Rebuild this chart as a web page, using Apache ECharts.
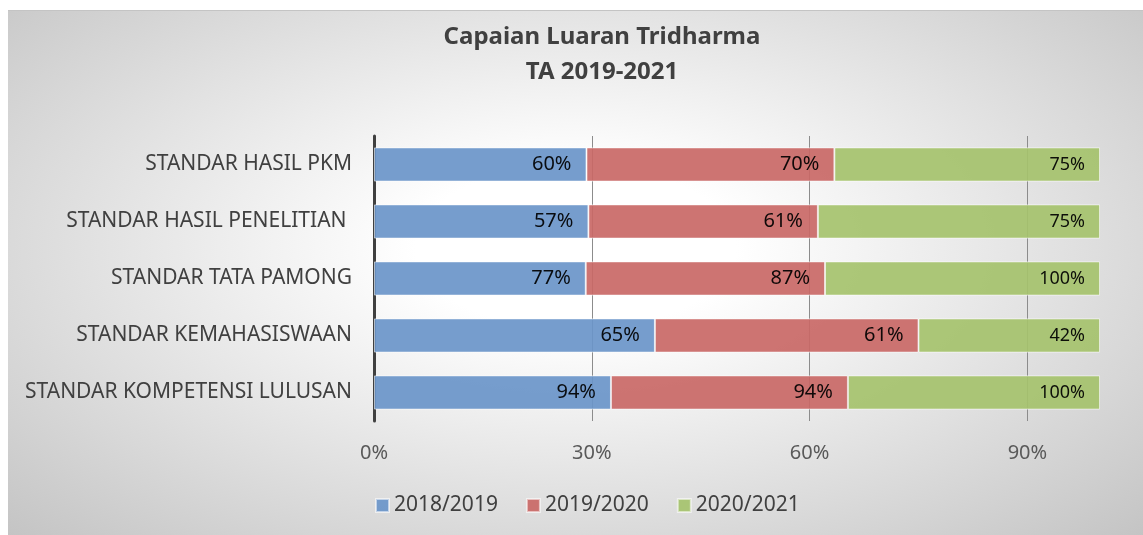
<!DOCTYPE html>
<html>
<head>
<meta charset="utf-8">
<title>Capaian Luaran Tridharma</title>
<script src="https://cdn.jsdelivr.net/npm/echarts@6/dist/echarts.min.js"></script>
<style>
  html, body { margin: 0; padding: 0; background: #fff; }
  #chart {
    position: absolute; left: 8px; top: 10px; width: 1135px; height: 525px;
    border-top: 1px solid #c4c4c4;
    background: radial-gradient(ellipse at 50% 45%, #ffffff 20%, #c4c4c4 100%);
  }
</style>
</head>
<body>
<div id="chart"></div>
<script>
// categories, top to bottom
const categories = [
  'STANDAR HASIL PKM',
  'STANDAR HASIL PENELITIAN ',
  'STANDAR TATA PAMONG',
  'STANDAR KEMAHASISWAAN',
  'STANDAR KOMPETENSI LULUSAN'
]
const seriesNames = ['2018/2019', '2019/2020', '2020/2021']
const data2018 = [60, 57, 77, 65, 94]
const data2019 = [70, 61, 87, 61, 94]
const data2020 = [75, 75, 100, 42, 100]
const xTicks = [0, 30, 60, 90]

const colors = ['#6a95c9', '#c96866', '#a5c26d']
const raw = [data2018, data2019, data2020]
const totals = categories.map((c, i) => data2018[i] + data2019[i] + data2020[i])

const font = '"Noto Sans", "Open Sans", sans-serif'

const chart = echarts.init(document.getElementById('chart'))

chart.setOption({
  backgroundColor: 'transparent',
  textStyle: { fontFamily: font },
  title: {
    text: 'Capaian Luaran Tridharma\nTA 2019-2021',
    left: 589,
    textAlign: 'center',
    top: 4,
    textStyle: {
      fontFamily: font,
      fontSize: 24,
      fontWeight: 'bold',
      color: '#404040',
      lineHeight: 35
    }
  },
  legend: {
    bottom: 15,
    left: 362,
    itemWidth: 13,
    itemHeight: 13,
    itemGap: 28,
    icon: 'rect',
    textStyle: { fontSize: 21, color: '#404040', fontFamily: font },
    data: seriesNames
  },
  grid: {
    left: 366,
    right: 43,
    top: 125,
    bottom: 115
  },
  xAxis: {
    type: 'value',
    min: 0,
    max: 100,
    interval: 30,
    axisLine: { show: false },
    axisTick: { show: false },
    axisLabel: {
      fontSize: 20,
      color: '#595959',
      margin: 22,
      formatter: v => (xTicks.indexOf(v) >= 0 ? v + '%' : '')
    },
    splitLine: {
      show: true,
      showMinLine: false,
      showMaxLine: false,
      lineStyle: { color: '#8c8c8c', width: 1 }
    }
  },
  yAxis: {
    type: 'category',
    inverse: true,
    data: categories,
    axisLine: { show: true, lineStyle: { color: '#404040', width: 3 } },
    axisTick: { show: false },
    axisLabel: { fontSize: 21, color: '#404040', margin: 22 }
  },
  series: seriesNames.map((name, s) => ({
    name: name,
    type: 'bar',
    stack: 'total',
    barWidth: '60%',
    itemStyle: {
      color: colors[s],
      opacity: 0.92,
      borderColor: 'rgba(255,255,255,0.6)',
      borderWidth: 1
    },
    label: {
      show: true,
      position: 'insideRight',
      distance: 15,
      color: '#000',
      fontSize: s === 2 ? 18 : 20,
      formatter: p => raw[s][p.dataIndex] + '%'
    },
    data: raw[s].map((v, i) => v / totals[i] * 100)
  }))
})
</script>
</body>
</html>
